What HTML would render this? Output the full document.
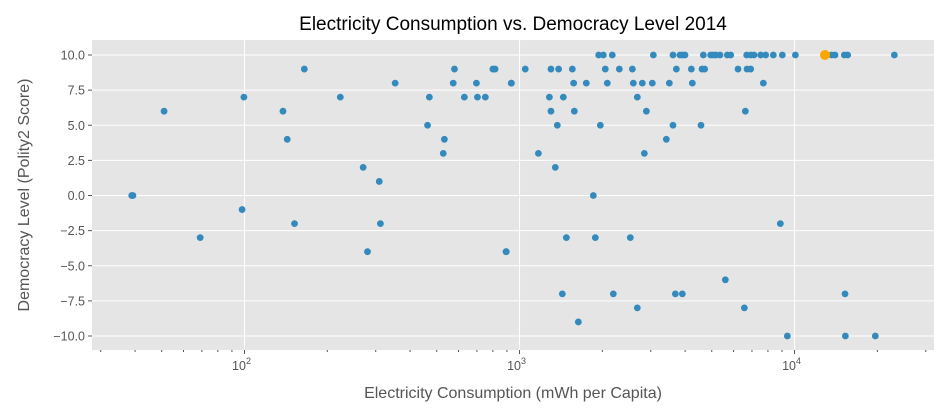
<!DOCTYPE html>
<html><head><meta charset="utf-8"><style>
body{margin:0;background:#fff;font-family:"Liberation Sans",sans-serif}
svg{display:block}
</style></head><body>
<svg id="chart" width="952" height="417">
<text x="513" y="30" text-anchor="middle" font-size="19" fill="#000">Electricity Consumption vs. Democracy Level 2014</text>
<rect x="92" y="40" width="842" height="310" fill="#E5E5E5"/>
<g id="grid"></g><g id="ticks"></g><g id="pts"></g>
<text x="513" y="398" text-anchor="middle" font-size="16" fill="#555">Electricity Consumption (mWh per Capita)</text>
<text transform="translate(29,195) rotate(-90)" text-anchor="middle" font-size="16" fill="#555">Democracy Level (Polity2 Score)</text>
</svg>
<script>
const consumption=[38.9,39.3,51,165,99.5,138,143,223,353,470,580,574,697,800,815,934,630,703,751,463,533,528,270,309,98,152,312,69,280,893,
1940,2017,2174,3066,3614,3832,3919,3996,4659,4955,5067,5181,5357,5697,5859,6698,6924,7120,7530,7852,8371,9027,10070,13640,14030,15170,15600,23060,
1049,1301,1387,1556,2050,2306,2572,3717,4214,4608,4711,6229,6716,6924,
933,1573,1749,2085,2593,2796,3039,3505,4249,7700,
1284,1443,2681,1301,1582,2892,6623,1372,1967,3614,4569,3418,1171,2843,1349,1855,8878,1480,1886,2528,895,5602,1431,2193,3686,3908,15260,2681,6568,1636,9414,15300,19660];
const polity=[0,0,6,9,7,6,4,7,8,7,9,8,8,9,9,8,7,7,7,5,4,3,2,1,-1,-2,-2,-3,-4,-4,
10,10,10,10,10,10,10,10,10,10,10,10,10,10,10,10,10,10,10,10,10,10,10,10,10,10,10,10,
9,9,9,9,9,9,9,9,9,9,9,9,9,9,
8,8,8,8,8,8,8,8,8,8,
7,7,7,6,6,6,6,5,5,5,5,4,3,3,2,0,-2,-3,-3,-3,-4,-6,-7,-7,-7,-7,-7,-8,-8,-9,-10,-10,-10];
const highlightX=[12900], highlightY=[10];
const yTicks=[10,7.5,5,2.5,0,-2.5,-5,-7.5,-10];
const xDecades=[100,1000,10000];
const L=92,R=934,T=40,B=350,LMIN=1.4455,LMAX=4.507;
const sx=v=>L+(Math.log10(v)-LMIN)/(LMAX-LMIN)*(R-L);
const sy=v=>55+(10-v)*(336-55)/20;
const NS='http://www.w3.org/2000/svg';
function mk(p,t,a){const e=document.createElementNS(NS,t);for(const k in a)e.setAttribute(k,a[k]);p.appendChild(e);return e;}
const g=document.getElementById('grid'),tk=document.getElementById('ticks'),pg=document.getElementById('pts');
yTicks.forEach(v=>{const y=sy(v);
 const l=mk(g,'line',{x1:L,x2:R,y1:y,y2:y,stroke:'#fff','stroke-width':1});
 
 
 mk(tk,'line',{x1:L-4,x2:L,y1:y,y2:y,stroke:'#555'});
 const t=mk(tk,'text',{x:L-7,y:y+4.5,'text-anchor':'end','font-size':12.5,fill:'#555'});
 t.textContent=v.toFixed(1).replace('-','−');
 
 
});
xDecades.forEach(v=>{const x=sx(v);
 const l=mk(g,'line',{x1:x,x2:x,y1:T,y2:B,stroke:'#fff','stroke-width':1});
 
 
 mk(tk,'line',{x1:x,x2:x,y1:B,y2:B+4,stroke:'#555'});
 const t=mk(tk,'text',{x:x-3,y:B+20,'text-anchor':'middle','font-size':12.5,fill:'#555'});
 t.innerHTML='10<tspan dy="-6" font-size="9">'+Math.round(Math.log10(v))+'</tspan>';
 
 
});
[10,100,1000,10000].forEach(d=>{for(let m=2;m<10;m++){const x=sx(d*m);if(x>L&&x<R)mk(tk,'line',{x1:x,x2:x,y1:B,y2:B+2,stroke:'#555'});}});
consumption.forEach((v,i)=>{
 const c=mk(pg,'circle',{cx:sx(v),cy:sy(polity[i]),r:3.4,fill:'#348ABD'});
 
 
});
highlightX.forEach((v,i)=>{
 const c=mk(pg,'circle',{cx:sx(v),cy:sy(highlightY[i]),r:5,fill:'#FFA500'});
 
 
});
</script>
</body></html>
